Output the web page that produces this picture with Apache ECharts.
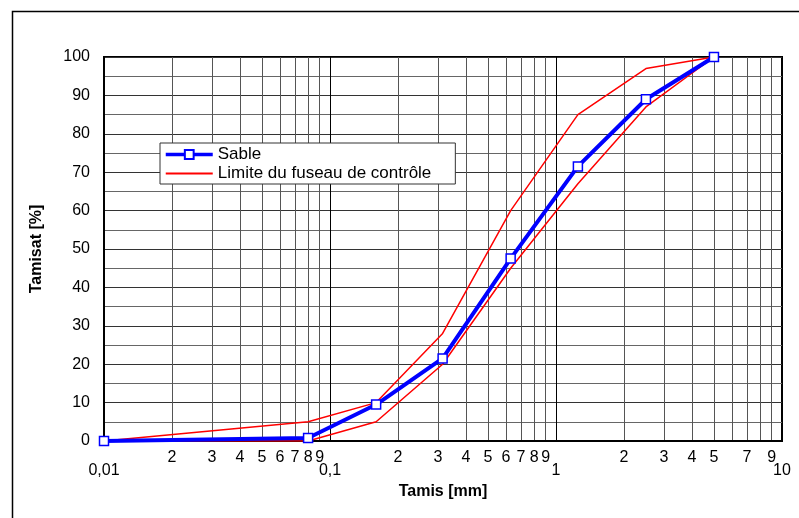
<!DOCTYPE html>
<html>
<head>
<meta charset="utf-8">
<script src="https://cdn.jsdelivr.net/npm/echarts@6/dist/echarts.min.js"></script>
<style>html,body{margin:0;padding:0;background:#fff}#c{width:799px;height:518px}</style>
</head>
<body>
<div id="c"></div>
<script>
// Data
var sieves = [0.01, 0.08, 0.16, 0.315, 0.63, 1.25, 2.5, 5];
var sable = [0, 0.8, 9.5, 21.5, 47.5, 71.5, 89, 100];
var upperLimit = [0, 5, 10, 28, 60, 85, 97, 100];
var lowerLimit = [0, 0, 5, 20, 45, 67, 87, 100];
var decadeLabels = {"0.01": "0,01", "0.1": "0,1", "1": "1", "10": "10"};
var minorTicks = [0.02,0.03,0.04,0.05,0.06,0.07,0.08,0.09,0.2,0.3,0.4,0.5,0.6,0.7,0.8,0.9,2,3,4,5,6,7,8,9];
var minorLabels = [0.02,0.03,0.04,0.05,0.06,0.07,0.08,0.09,0.2,0.3,0.4,0.5,0.6,0.7,0.8,0.9,2,3,4,5,7,9];
var LIMIT = 'Limite du fuseau de contrôle';

function pairs(xs, ys) { return xs.map(function (x, i) { return [x, ys[i]]; }); }
var FONT = "'Liberation Sans', Arial, sans-serif";

var chart = echarts.init(document.getElementById('c'), null, {renderer: 'canvas'});
chart.setOption({
  animation: false,
  backgroundColor: '#fff',
  graphic: [{
    type: 'rect', left: 10, top: 9, z: -1,
    shape: {x: 0, y: 0, width: 800, height: 520},
    style: {fill: 'none', stroke: '#000', lineWidth: 1.5}
  }],
  grid: {left: 104, top: 57, width: 678, height: 384, show: true, borderColor: '#000', borderWidth: 2, backgroundColor: '#fff'},
  legend: {
    left: 160, top: 143, orient: 'vertical',
    backgroundColor: '#fff', borderColor: '#333', borderWidth: 1,
    padding: [3, 24, 2, 4], itemGap: 2, itemWidth: 47, itemHeight: 11,
    textStyle: {fontFamily: FONT, fontSize: 17, color: '#000'},
    data: [{name: 'Sable', lineStyle: {width: 3.5}}, {name: LIMIT, itemStyle: {opacity: 0}}]
  },
  xAxis: [{
    type: 'log', logBase: 10, min: 0.01, max: 10,
    name: 'Tamis [mm]', nameLocation: 'middle', nameGap: 43,
    nameTextStyle: {fontFamily: FONT, fontSize: 16, fontWeight: 'bold', color: '#000'},
    axisLine: {show: true, lineStyle: {color: '#000', width: 2}},
    axisTick: {show: false},
    axisLabel: {margin: 22, fontFamily: FONT, fontSize: 16, color: '#000',
      formatter: function (v) { var k = String(+v.toPrecision(6)); return decadeLabels[k] || ''; }},
    splitLine: {show: true, lineStyle: {color: '#000', width: 1}}
  }, {
    type: 'log', logBase: 10, min: 0.01, max: 10, position: 'bottom',
    axisLine: {show: false},
    axisTick: {show: false, customValues: minorTicks},
    axisLabel: {margin: 9, fontFamily: FONT, fontSize: 16, color: '#000', customValues: minorLabels,
      formatter: function (v) { var d = +v; while (d < 1) d *= 10; return String(Math.round(d)); }},
    splitLine: {show: true, lineStyle: {color: '#555', width: 1}}
  }],
  yAxis: {
    type: 'value', min: 0, max: 100, interval: 10,
    name: 'Tamisat [%]', nameLocation: 'middle', nameGap: 59,
    nameTextStyle: {fontFamily: FONT, fontSize: 16, fontWeight: 'bold', color: '#000'},
    axisLine: {show: true, lineStyle: {color: '#000', width: 2}},
    axisTick: {show: false},
    minorTick: {show: false, splitNumber: 2},
    minorSplitLine: {show: true, lineStyle: {color: '#666', width: 1}},
    axisLabel: {margin: 14, fontFamily: FONT, fontSize: 16, color: '#000'},
    splitLine: {show: true, lineStyle: {color: '#333', width: 1}}
  },
  series: [{
    name: LIMIT, type: 'line', xAxisIndex: 0,
    data: pairs(sieves, upperLimit), showSymbol: false, symbol: 'none',
    lineStyle: {color: '#ff0000', width: 1.5}, itemStyle: {color: '#ff0000'}, z: 3
  }, {
    name: LIMIT, type: 'line', xAxisIndex: 0,
    data: pairs(sieves, lowerLimit), showSymbol: false, symbol: 'none',
    lineStyle: {color: '#ff0000', width: 1.5}, itemStyle: {color: '#ff0000'}, z: 3
  }, {
    name: 'Sable', type: 'line', xAxisIndex: 0,
    data: pairs(sieves, sable), symbol: 'rect', symbolSize: 9, showSymbol: true,
    lineStyle: {color: '#0000ff', width: 4},
    itemStyle: {color: '#fff', borderColor: '#0000ff', borderWidth: 1.5}, z: 4
  }]
});
</script>
</body>
</html>
